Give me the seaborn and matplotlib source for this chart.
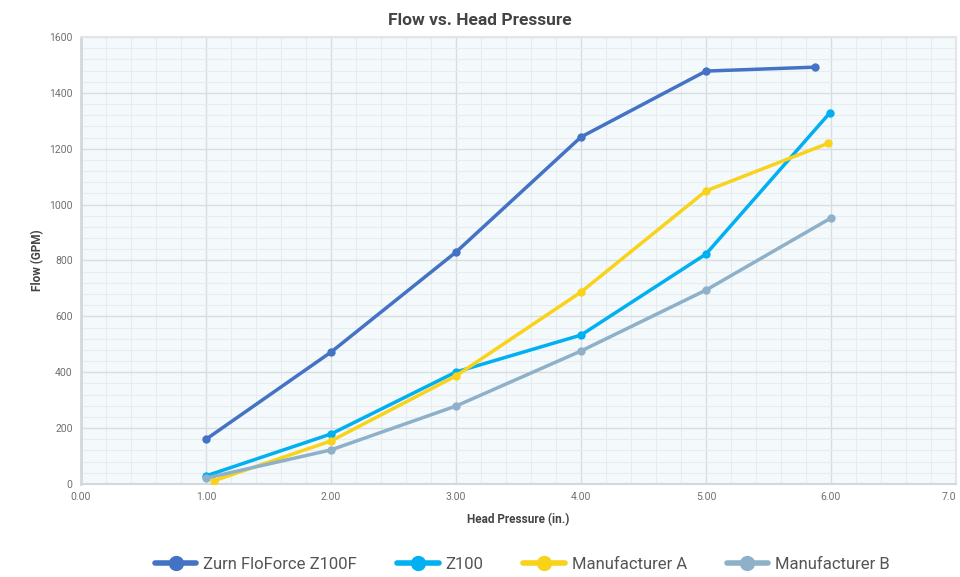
import pandas as pd
import matplotlib.pyplot as plt
import seaborn as sns
from matplotlib.ticker import MultipleLocator

# ── data ──
series = ['Zurn FloForce Z100F', 'Z100', 'Manufacturer A', 'Manufacturer B']
zurn_x = [1.0, 2.0, 3.0, 4.0, 5.0, 5.87]
zurn_y = [160, 472, 830, 1242, 1478, 1492]
z100_x = [1.0, 2.0, 3.0, 4.0, 5.0, 5.99]
z100_y = [29, 179, 401, 533, 823, 1328]
mfra_x = [1.06, 2.0, 3.0, 4.0, 5.0, 5.98]
mfra_y = [11, 154, 387, 687, 1049, 1220]
mfrb_x = [1.0, 2.0, 3.0, 4.0, 5.0, 6.0]
mfrb_y = [21, 122, 279, 476, 694, 952]
x_ticks = [0, 1, 2, 3, 4, 5, 6, 7]
x_labels = ['0.00', '1.00', '2.00', '3.00', '4.00', '5.00', '6.00', '7.0']
colors = ['#4472C4', '#00B0F0', '#F9D21A', '#8EB0C8']

frames = []
for name, xs, ys in zip(series, [zurn_x, z100_x, mfra_x, mfrb_x],
                        [zurn_y, z100_y, mfra_y, mfrb_y]):
    frames.append(pd.DataFrame({'x': xs, 'y': ys, 'Series': name}))
df = pd.concat(frames, ignore_index=True)

sns.set_style('white')
plt.rcParams['font.family'] = ['Roboto', 'DejaVu Sans']

fig = plt.figure(figsize=(9.6, 5.77), dpi=100)
ax = fig.add_axes([0.0844, 0.1612, 0.9114, 0.7747])
ax.set_facecolor('#F4F9FC')

sns.lineplot(data=df, x='x', y='y', hue='Series', palette=colors,
             hue_order=series, marker='o', markersize=6, linewidth=2.5,
             markeredgewidth=0, sort=False, estimator=None, ax=ax,
             legend=False, zorder=3)

ax.set_xlim(0, 7)
ax.set_ylim(0, 1600)
ax.xaxis.set_minor_locator(MultipleLocator(0.2))
ax.yaxis.set_major_locator(MultipleLocator(200))
ax.yaxis.set_minor_locator(MultipleLocator(40))
ax.set_xticks(x_ticks)
ax.set_xticklabels(x_labels)
ax.grid(which='major', color='#D8DDE2', linewidth=1.0, zorder=0)
ax.grid(which='minor', color='#E6ECF0', linewidth=0.8, zorder=0)
ax.set_axisbelow(True)

for s in ['top', 'right']:
    ax.spines[s].set_color('#E3E6E9')
    ax.spines[s].set_linewidth(1.5)
ax.spines['left'].set_color('#D5D8DB')
ax.spines['left'].set_linewidth(2)
ax.spines['bottom'].set_color('#D5D8DB')
ax.spines['bottom'].set_linewidth(1.5)

ax.tick_params(axis='both', which='both', length=0, labelsize=7.5,
               labelcolor='#707070', pad=6)
# last tick label sits on the figure edge, as in the reference
ax.get_xticklabels()[-1].set_horizontalalignment('right')

ax.set_xlabel('Head Pressure (in.)', fontsize=8.5, fontweight='bold',
              color='#444444', labelpad=8)
ax.set_ylabel('Flow (GPM)', fontsize=8.5, fontweight='bold',
              color='#444444', labelpad=4)
fig.suptitle('Flow vs. Head Pressure', x=0.5, y=0.978, fontsize=12.5,
             fontweight='bold', color='#444444')

handles = [plt.Line2D([0], [0], color=c, linewidth=4, marker='o',
                      markersize=11, markeredgewidth=0) for c in colors]
fig.legend(handles, series, loc='center', ncol=4, frameon=False,
           fontsize=12, handlelength=2.5, handletextpad=0.4,
           columnspacing=2.4, bbox_to_anchor=(0.544, 0.022),
           labelcolor='#555555')

fig.savefig('out.png', dpi=100)
